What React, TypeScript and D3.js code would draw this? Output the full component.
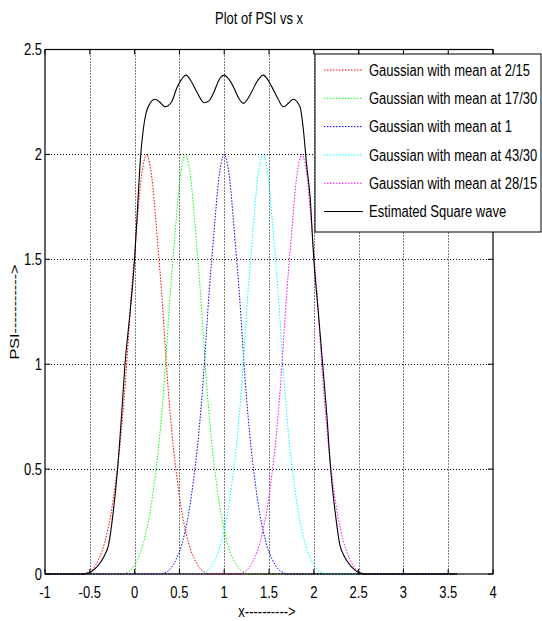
import React from 'react';
import * as d3 from 'd3';

// means of the five gaussians, as written in the legend
const gaussMeans = [2 / 15, 17 / 30, 1, 43 / 30, 28 / 15];
const gaussLabels = [
  'Gaussian with mean at 2/15',
  'Gaussian with mean at 17/30',
  'Gaussian with mean at 1',
  'Gaussian with mean at 43/30',
  'Gaussian with mean at 28/15',
];
const gaussColors = ['#ff0000', '#00ff00', '#0000ff', '#00ffff', '#ff00ff'];

// shape of one gaussian: distance from mean -> PSI
const profileOffsets = [0, 0.033, 0.067, 0.1, 0.133, 0.167, 0.2, 0.233, 0.267, 0.3, 0.333, 0.367, 0.4, 0.433, 0.467, 0.5, 0.533, 0.567, 0.6, 0.633, 0.667, 0.7];
const profileValues = [2.0, 1.96, 1.86, 1.7, 1.53, 1.35, 1.14, 0.93, 0.75, 0.6, 0.48, 0.37, 0.28, 0.21, 0.15, 0.105, 0.072, 0.045, 0.025, 0.012, 0.005, 0];

// estimated square wave (black)
const squareX = [-1, -0.6, -0.53, -0.48, -0.43, -0.39, -0.34, -0.29, -0.24, -0.19, -0.144, -0.107, -0.05, 0.0, 0.04, 0.06, 0.097, 0.13, 0.172, 0.228, 0.28, 0.339, 0.414, 0.47, 0.52, 0.574, 0.63, 0.693, 0.775, 0.83, 0.878, 0.953, 1.0, 1.05, 1.102, 1.16, 1.213, 1.307, 1.37, 1.436, 1.48, 1.53, 1.6, 1.66, 1.72, 1.77, 1.846, 1.883, 1.92, 1.958, 2.0, 2.05, 2.099, 2.144, 2.188, 2.24, 2.29, 2.34, 2.39, 2.43, 2.48, 2.53, 2.6, 3.6];
const squareY = [0, 0, 0.003, 0.012, 0.03, 0.05, 0.085, 0.14, 0.29, 0.5, 0.766, 1.0, 1.25, 1.5, 1.8, 1.95, 2.12, 2.2, 2.243, 2.263, 2.25, 2.227, 2.251, 2.315, 2.355, 2.378, 2.35, 2.299, 2.246, 2.255, 2.29, 2.363, 2.378, 2.36, 2.323, 2.27, 2.243, 2.299, 2.35, 2.378, 2.36, 2.323, 2.265, 2.227, 2.245, 2.263, 2.227, 2.12, 1.95, 1.8, 1.5, 1.25, 1.0, 0.766, 0.5, 0.29, 0.14, 0.085, 0.05, 0.03, 0.012, 0.003, 0, 0];
const squareLabel = 'Estimated Square wave';

const xDomain = [-1, 4];
const yDomain = [0, 2.5];
const dataStart = -1;
const dataEnd = 3.6;

const W = 542;
const H = 621;
const m = { left: 45, right: 493, top: 49.5, bottom: 574 };
const FONT = 'Liberation Sans, Arial, sans-serif';
const SY = 1.25; // the figure is stretched vertically

const T = ({ x, y, anchor = 'middle', children }: any) => (
  <text
    transform={`translate(${x},${y}) scale(1,${SY})`}
    textAnchor={anchor}
    dy="0.35em"
    fontFamily={FONT}
    fontSize={13}
    fill="#000"
  >
    {children}
  </text>
);

export default function App() {
  const x = d3.scaleLinear().domain(xDomain).range([m.left, m.right]);
  const y = d3.scaleLinear().domain(yDomain).range([m.bottom, m.top]);
  const line = d3
    .line<[number, number]>()
    .x((d) => x(d[0]))
    .y((d) => y(d[1]))
    .curve(d3.curveMonotoneX);

  const gaussSeries = gaussMeans.map((mu) => {
    const left = profileOffsets.slice(1).reverse().map((o, i) => [mu - o, profileValues[profileValues.length - 1 - i]] as [number, number]);
    const right = profileOffsets.map((o, i) => [mu + o, profileValues[i]] as [number, number]);
    return [[dataStart, 0] as [number, number], ...left, ...right, [dataEnd, 0] as [number, number]];
  });
  const squareSeries = squareX.map((v, i) => [v, squareY[i]] as [number, number]);

  const xTicks = x.ticks(10);
  const yTicks = y.ticks(5);
  const tickLen = 5;

  const legX = 315;
  const legY = 54;
  const legW = 226;
  const rowH = 28.3;
  const legH = 178;

  return (
    <svg width={W} height={H} style={{ position: 'absolute', left: 0, top: 0, background: '#fff' }}>
      <rect width={W} height={H} fill="#fff" />
      <T x={259} y={18}>Plot of PSI vs x</T>

      {/* grid */}
      <g stroke="#000" strokeWidth={1} strokeDasharray="1,2">
        {xTicks.filter((t) => t > xDomain[0] && t < xDomain[1]).map((t) => (
          <line key={'gx' + t} x1={Math.round(x(t)) + 0.5} x2={Math.round(x(t)) + 0.5} y1={m.top} y2={m.bottom} />
        ))}
        {yTicks.filter((t) => t > yDomain[0] && t < yDomain[1]).map((t) => (
          <line key={'gy' + t} y1={Math.round(y(t)) + 0.5} y2={Math.round(y(t)) + 0.5} x1={m.left} x2={m.right} />
        ))}
      </g>

      {/* curves */}
      {gaussSeries.map((s, i) => (
        <path key={i} d={line(s) || ''} fill="none" stroke={gaussColors[i]} strokeWidth={1} strokeDasharray="1.5,1.5" />
      ))}
      <path d={line(squareSeries) || ''} fill="none" stroke="#000" strokeWidth={1.1} />

      {/* axes box + ticks */}
      <rect x={m.left} y={m.top} width={m.right - m.left} height={m.bottom - m.top} fill="none" stroke="#000" strokeWidth={1.2} />
      <g stroke="#000" strokeWidth={1}>
        {xTicks.map((t) => (
          <g key={'tx' + t}>
            <line x1={x(t)} x2={x(t)} y1={m.bottom} y2={m.bottom - tickLen} />
            <line x1={x(t)} x2={x(t)} y1={m.top} y2={m.top + tickLen} />
          </g>
        ))}
        {yTicks.map((t) => (
          <g key={'ty' + t}>
            <line y1={y(t)} y2={y(t)} x1={m.left} x2={m.left + tickLen} />
            <line y1={y(t)} y2={y(t)} x1={m.right} x2={m.right - tickLen} />
          </g>
        ))}
      </g>
      {xTicks.map((t) => (
        <T key={'lx' + t} x={x(t)} y={592}>{String(t)}</T>
      ))}
      {yTicks.map((t) => (
        <T key={'ly' + t} x={m.left - 3} y={y(t)} anchor="end">{String(t)}</T>
      ))}

      <T x={267} y={611}>x----------&gt;</T>
      <text
        transform={`translate(19,312) rotate(-90) scale(${SY},1)`}
        textAnchor="middle"
        fontFamily={FONT}
        fontSize={13}
      >
        PSI-----------&gt;
      </text>

      {/* legend */}
      <rect x={legX} y={legY} width={legW} height={legH} fill="#fff" stroke="#000" strokeWidth={1} />
      {gaussLabels.map((lab, i) => {
        const ry = legY + 16 + i * rowH;
        return (
          <g key={lab}>
            <line x1={324} x2={363} y1={ry} y2={ry} stroke={gaussColors[i]} strokeDasharray="1.5,1.5" />
            <T x={369} y={ry} anchor="start">{lab}</T>
          </g>
        );
      })}
      <line x1={324} x2={363} y1={legY + 16 + 5 * rowH} y2={legY + 16 + 5 * rowH} stroke="#000" />
      <T x={369} y={legY + 16 + 5 * rowH} anchor="start">{squareLabel}</T>
    </svg>
  );
}
